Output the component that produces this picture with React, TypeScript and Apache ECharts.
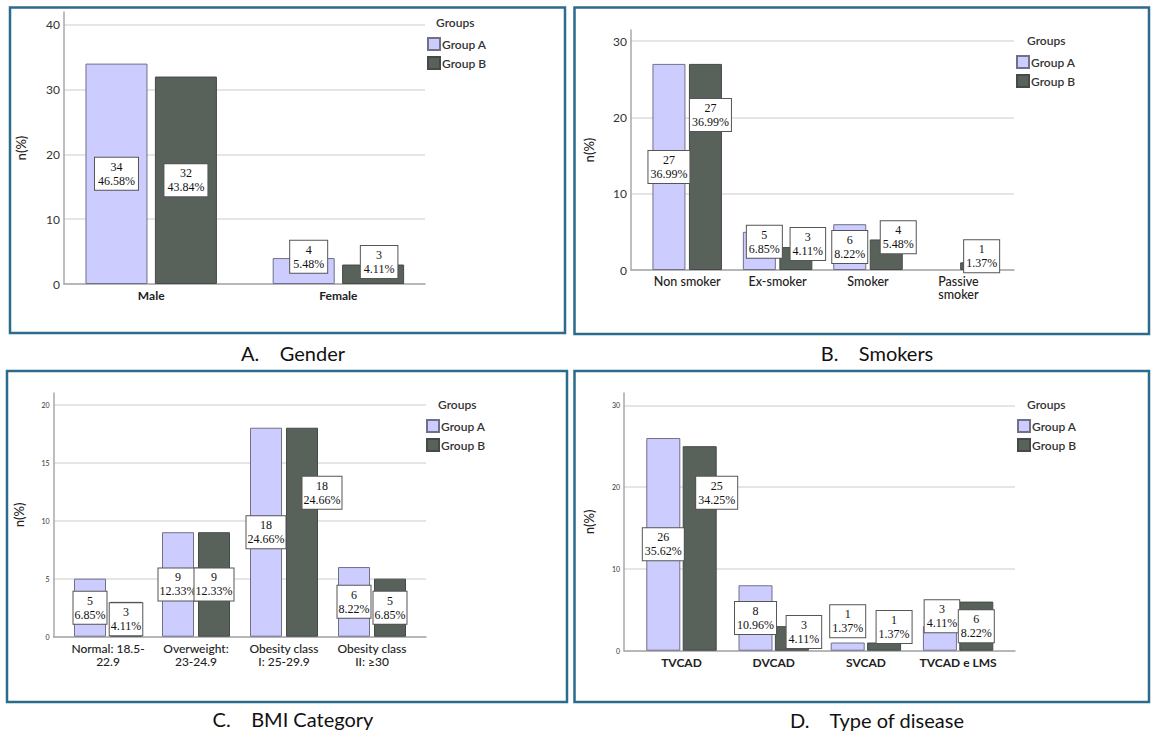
import React, { useEffect, useRef } from "react";
import * as echarts from "echarts";

// ---------- DATA ----------
const genderCategories = ["Male", "Female"];
const genderA = [34, 4];
const genderB = [32, 3];
const genderPctA = ["46.58%", "5.48%"];
const genderPctB = ["43.84%", "4.11%"];

const smokerCategories = ["Non smoker", "Ex-smoker", "Smoker", "Passive\nsmoker"];
const smokerA = [27, 5, 6, 0];
const smokerB = [27, 3, 4, 1];
const smokerPctA = ["36.99%", "6.85%", "8.22%", ""];
const smokerPctB = ["36.99%", "4.11%", "5.48%", "1.37%"];

const bmiCategories = ["Normal: 18.5-\n22.9", "Overweight:\n23-24.9", "Obesity class\nI: 25-29.9", "Obesity class\nII: \u226530"];
const bmiA = [5, 9, 18, 6];
const bmiB = [3, 9, 18, 5];
const bmiPctA = ["6.85%", "12.33%", "24.66%", "8.22%"];
const bmiPctB = ["4.11%", "12.33%", "24.66%", "6.85%"];

const diseaseCategories = ["TVCAD", "DVCAD", "SVCAD", "TVCAD e LMS"];
const diseaseA = [26, 8, 1, 3];
const diseaseB = [25, 3, 1, 6];
const diseasePctA = ["35.62%", "10.96%", "1.37%", "4.11%"];
const diseasePctB = ["34.25%", "4.11%", "1.37%", "8.22%"];

const groupNames = ["Group A", "Group B"];
const panelTitles = ["A.    Gender", "B.    Smokers", "C.    BMI Category", "D.    Type of disease"];

// y axis scales (max, interval)
const genderAxis = [40, 10];
const smokerAxis = [30, 10];
const bmiAxis = [20, 5];
const diseaseAxis = [30, 10];

// label anchor (value units where the label box is centred) and horizontal nudge (px)
const genderLabelAtA = [17, 4.2];
const genderLabelAtB = [16, 3.4];
const genderShiftA = [0, 5];
const genderShiftB = [0, 6];
const smokerLabelAtA = [13.5, 3.7, 3, 0];
const smokerLabelAtB = [20.3, 3.4, 4.3, 1.8];
const smokerShiftA = [0, 5, 0, 0];
const smokerShiftB = [5, 12, 12, 5];
const bmiLabelAtA = [2.5, 4.5, 9, 3];
const bmiLabelAtB = [1.5, 4.5, 12.4, 2.5];
const bmiShiftA = [0, 0, 0, 0];
const bmiShiftB = [0, 0, 20, 0];
const diseaseLabelAtA = [13, 4, 3.6, 4.2];
const diseaseLabelAtB = [19.3, 2.3, 2.9, 3];
const diseaseShiftA = [0, 0, 0, 2];
const diseaseShiftB = [17, 12, 10, 0];

const COLOR_A = "#ccccff";
const COLOR_B = "#58625b";
const SANS = "Lato, 'Open Sans', sans-serif";
const SERIF = "'Liberation Serif', 'DejaVu Serif', serif";

type PanelCfg = {
  cats: string[];
  a: number[];
  b: number[];
  pa: string[];
  pb: string[];
  atA: number[];
  atB: number[];
  shA: number[];
  shB: number[];
  axis: number[];
  frame: { l: number; t: number; r: number; b: number };
  lineTop: number;
  bars: { l: number; w: number };
  barWidth: number;
  barGap: string;
  tickSize: number;
  catSize: number;
  catWeight: any;
  nameGap: number;
  legend: { x: number; y: number };
  groups: { x: number; y: number };
  labelPad: number[];
};

const panels: PanelCfg[] = [
  {
    cats: genderCategories, a: genderA, b: genderB, pa: genderPctA, pb: genderPctB,
    atA: genderLabelAtA, atB: genderLabelAtB, shA: genderShiftA, shB: genderShiftB,
    axis: genderAxis,
    frame: { l: 64, t: 12, r: 425, b: 284 }, lineTop: 24.7,
    bars: { l: 57.6, w: 374.4 }, barWidth: 62, barGap: "12%",
    tickSize: 12, catSize: 12, catWeight: 700, nameGap: 37,
    legend: { x: 427, y: 37 }, groups: { x: 436, y: 16 }, labelPad: [2, 3],
  },
  {
    cats: smokerCategories, a: smokerA, b: smokerB, pa: smokerPctA, pb: smokerPctB,
    atA: smokerLabelAtA, atB: smokerLabelAtB, shA: smokerShiftA, shB: smokerShiftB,
    axis: smokerAxis,
    frame: { l: 631, t: 30, r: 1014, b: 270 }, lineTop: 41,
    bars: { l: 642, w: 361.6 }, barWidth: 33, barGap: "10.6%",
    tickSize: 12, catSize: 12.5, catWeight: 500, nameGap: 36,
    legend: { x: 1016, y: 55 }, groups: { x: 1027, y: 34 }, labelPad: [2, 2],
  },
  {
    cats: bmiCategories, a: bmiA, b: bmiB, pa: bmiPctA, pb: bmiPctB,
    atA: bmiLabelAtA, atB: bmiLabelAtB, shA: bmiShiftA, shB: bmiShiftB,
    axis: bmiAxis,
    frame: { l: 53.5, t: 393, r: 426, b: 636.7 }, lineTop: 404.5,
    bars: { l: 64, w: 352 }, barWidth: 32, barGap: "12.5%",
    tickSize: 7, catSize: 12, catWeight: 500, nameGap: 28,
    legend: { x: 426, y: 419 }, groups: { x: 438, y: 398 }, labelPad: [2, 1],
  },
  {
    cats: diseaseCategories, a: diseaseA, b: diseaseB, pa: diseasePctA, pb: diseasePctB,
    atA: diseaseLabelAtA, atB: diseaseLabelAtB, shA: diseaseShiftA, shB: diseaseShiftB,
    axis: diseaseAxis,
    frame: { l: 624, t: 393, r: 1015, b: 650.7 }, lineTop: 405.3,
    bars: { l: 635.4, w: 368.8 }, barWidth: 34, barGap: "7%",
    tickSize: 7, catSize: 12, catWeight: 700, nameGap: 29,
    legend: { x: 1017, y: 419 }, groups: { x: 1027, y: 398 }, labelPad: [2, 2],
  },
];

const panelBoxes = [
  { x: 10, y: 7.5, w: 555, h: 325.5 },
  { x: 574.5, y: 7.5, w: 574.5, h: 326.5 },
  { x: 7, y: 371, w: 560, h: 331 },
  { x: 574.5, y: 371, w: 574.5, h: 331 },
];
const titlePos = [
  { x: 293, y: 353 },
  { x: 877, y: 353 },
  { x: 293, y: 719 },
  { x: 877, y: 720 },
];

function buildOption() {
  const grid: any[] = [];
  const xAxis: any[] = [];
  const yAxis: any[] = [];
  const series: any[] = [];
  const legend: any[] = [];
  const title: any[] = [];

  panels.forEach((p, i) => {
    const base = i * 3;
    const [yMax, interval] = p.axis;
    const plotH = p.frame.b - p.lineTop;
    const ppu = plotH / yMax;

    // frame grid (axis lines)
    grid.push({ left: p.frame.l, top: p.frame.t, width: p.frame.r - p.frame.l, height: p.frame.b - p.frame.t });
    xAxis.push({
      gridIndex: base, type: "value", min: 0, max: 1,
      axisLine: { show: true, lineStyle: { color: "#a8a8a8", width: 1.5 } },
      axisTick: { show: false }, axisLabel: { show: false }, splitLine: { show: false },
    });
    yAxis.push({
      gridIndex: base, type: "value", min: 0, max: 1,
      name: "n(%)", nameLocation: "middle", nameGap: p.nameGap,
      nameTextStyle: { fontSize: 13, fontFamily: SANS, color: "#222", fontWeight: 500 },
      axisLine: { show: true, lineStyle: { color: "#a8a8a8", width: 1.5 } },
      axisTick: { show: false }, axisLabel: { show: false }, splitLine: { show: false },
    });

    // gridline grid
    grid.push({ left: p.frame.l, top: p.lineTop, width: p.frame.r - p.frame.l, height: plotH });
    xAxis.push({ gridIndex: base + 1, type: "value", min: 0, max: 1, show: false });
    yAxis.push({
      gridIndex: base + 1, type: "value", min: 0, max: yMax, interval,
      axisLine: { show: false }, axisTick: { show: false },
      axisLabel: { fontSize: p.tickSize, color: "#333", fontFamily: SANS, margin: 4 },
      splitLine: { show: true, lineStyle: { color: "#dcdcdc", width: 1.5 } },
    });

    // bar grid
    grid.push({ left: p.bars.l, top: p.lineTop, width: p.bars.w, height: plotH });
    xAxis.push({
      gridIndex: base + 2, type: "category", data: p.cats,
      axisLine: { show: false }, axisTick: { show: false }, splitLine: { show: false },
      axisLabel: {
        fontSize: p.catSize, fontWeight: p.catWeight, color: "#222", fontFamily: SANS,
        margin: 5, lineHeight: 13, interval: 0,
      },
    });
    yAxis.push({ gridIndex: base + 2, type: "value", min: 0, max: yMax, show: false });

    const mk = (name: string, vals: number[], pcts: string[], at: number[], sh: number[], color: string, border: string) => ({
      type: "bar", name, xAxisIndex: base + 2, yAxisIndex: base + 2,
      barWidth: p.barWidth, barGap: p.barGap,
      itemStyle: { color, borderColor: border, borderWidth: 1 },
      label: {
        show: true, position: "inside",
        formatter: (prm: any) => `${vals[prm.dataIndex]}\n${pcts[prm.dataIndex]}`,
        backgroundColor: "#ffffff", borderColor: "#555", borderWidth: 1,
        padding: p.labelPad, fontFamily: SERIF, fontSize: 12, lineHeight: 14, color: "#111",
      },
      data: vals.map((v, k) => ({
        value: v,
        itemStyle: { borderWidth: v > 0 ? 1 : 0 },
        label: { show: v > 0, offset: [sh[k], -(at[k] - v / 2) * ppu] },
      })),
    });
    series.push(mk(groupNames[0], p.a, p.pa, p.atA, p.shA, COLOR_A, "#707088"));
    series.push(mk(groupNames[1], p.b, p.pb, p.atB, p.shB, COLOR_B, "#44494a"));

    legend.push({
      data: groupNames, orient: "vertical", left: p.legend.x, top: p.legend.y,
      itemWidth: 12, itemHeight: 12, itemGap: 5, padding: 0, icon: "rect",
      selectedMode: false,
      textStyle: { fontSize: 12, fontFamily: SANS, fontWeight: 600, color: "#333", padding: [0, 0, 0, -3] },
    });
    title.push({
      text: "Groups", left: p.groups.x, top: p.groups.y, padding: 0,
      textStyle: { fontSize: 12, fontFamily: SANS, fontWeight: 600, color: "#333" },
    });
  });

  const graphic: any[] = [];
  panelBoxes.forEach((b) => {
    graphic.push({
      type: "rect", shape: { x: b.x, y: b.y, width: b.w, height: b.h },
      style: { fill: "none", stroke: "#2b6b8c", lineWidth: 2.5 }, silent: true,
    });
  });
  titlePos.forEach((t, i) => {
    graphic.push({
      type: "text", x: t.x, y: t.y,
      style: {
        text: panelTitles[i], fontSize: 20, fontFamily: SANS, fill: "#111",
        textAlign: "center", textVerticalAlign: "middle",
      },
    });
  });

  return {
    animation: false,
    backgroundColor: "#ffffff",
    grid, xAxis, yAxis, series, legend, title, graphic,
  };
}

export default function App() {
  const ref = useRef<HTMLDivElement>(null);
  useEffect(() => {
    if (!ref.current) return;
    const chart = echarts.init(ref.current, undefined, { renderer: "svg" });
    chart.setOption(buildOption() as any);
    return () => chart.dispose();
  }, []);
  return (
    <div
      ref={ref}
      style={{ position: "absolute", left: 0, top: 0, width: 1154, height: 733, background: "#fff" }}
    />
  );
}
